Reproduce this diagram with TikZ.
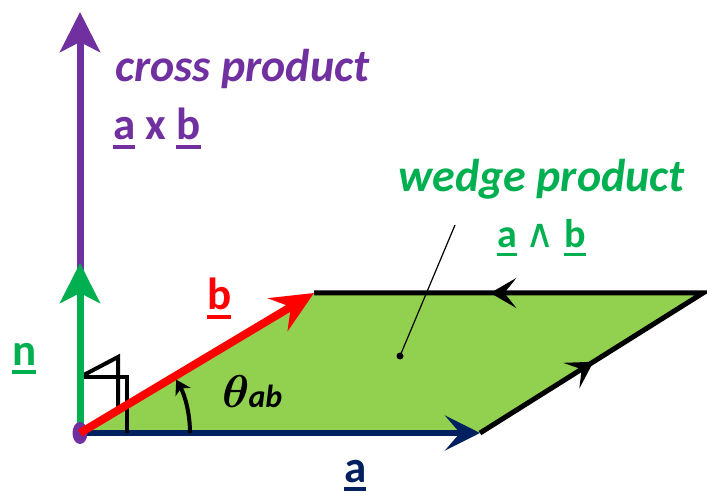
\documentclass[tikz,border=0pt]{standalone}
\usepackage{fix-cm}
\usepackage{fontspec}
\setmainfont{Carlito}
\newfontfamily\symfont{DejaVu Sans}
\usetikzlibrary{arrows.meta, decorations.markings}

\definecolor{crosscol}{HTML}{7030A0}
\definecolor{wedgecol}{HTML}{00B050}
\definecolor{planecol}{HTML}{92D050}
\definecolor{acol}{HTML}{002060}
\definecolor{bcol}{HTML}{FF0000}

\newcommand{\ulvec}[1]{\vtop{\hbox{#1}\kern0.11em\hrule height 0.08em}}
\newcommand{\labelsize}{\fontsize{45}{54}\selectfont}

\begin{document}
\begin{tikzpicture}[x=1pt, y=1pt,
        vec/.style={line width=7pt, -{Stealth[length=40pt, width=40pt, inset=10pt]}},
        edge/.style={line width=5pt},
        lbl/.style={inner sep=0pt, anchor=base west, font=\labelsize\bfseries},
        midarrows/.style={postaction={decorate}, decoration={markings,
            mark=at position 134pt with {\arrow{Stealth[length=26pt, width=30pt, inset=12pt]}},
            mark=at position 476pt with {\arrow{Stealth[length=26pt, width=30pt, inset=12pt]}}}}
    ]
    \useasboundingbox (0,0) rectangle (707,496);

    \coordinate (O) at (80,63);
    \coordinate (A) at (480,63);
    \coordinate (B) at (314,203);
    \coordinate (C) at (703,203);
    \coordinate (P) at (80,484);
    \coordinate (N) at (80,233);
    \coordinate (dot) at (400,140);
    \coordinate (lead) at (455,271);

    % plane spanned by a and b
    \fill[planecol] (O) -- (A) -- (C) -- (B) -- cycle;
    \draw[edge, midarrows] (A) -- (C) -- (B);

    \draw[acol, line width=6pt, -{Stealth[length=35pt, width=35pt, inset=15pt]}] (O) -- (A);
    \draw[vec, crosscol] (O) -- (P);

    % right angle marks
    \draw[line width=4pt] (80,119) -- (118,139) -- (118,86);
    \draw[line width=4pt] (80,119) -- (127,119) -- (127,63);

    \draw[vec, wedgecol] (O) -- (N);
    \fill[crosscol] (O) ellipse[x radius=7.5, y radius=11];
    \draw[bcol, line width=8pt, -{Stealth[length=42pt, width=38pt, inset=15pt]}] (O) -- (B);

    % angle between a and b
    \draw[line width=4pt, -{Stealth[length=14pt, width=17pt, inset=4pt]}]
        ([shift={(0:110)}]O) arc[start angle=0, end angle=29, radius=110];

    \fill (dot) circle (3.5);
    \draw[line width=1.2pt] (dot) -- (lead);

    \node[lbl, crosscol, font=\fontsize{46}{54}\selectfont\bfseries\itshape] (cross) at (115,414) {cross product};
    \node[lbl, crosscol] (crossvec) at (113,356) {\ulvec{a} x \ulvec{b}};
    \node[lbl, wedgecol, font=\fontsize{46}{54}\selectfont\bfseries\itshape] (wedge) at (398,304) {wedge product};
    \node[lbl, wedgecol, font=\fontsize{40}{48}\selectfont\bfseries] (wedgevec) at (497,248) {\ulvec{a} {\symfont\mdseries ∧} \ulvec{b}};
    \node[lbl, bcol] (blabel) at (207,186) {\ulvec{b}};
    \node[lbl, wedgecol] (nlabel) at (12,131) {\ulvec{n}};
    \node[lbl, acol] (alabel) at (344,14) {\ulvec{a}};
    \node[lbl, font=\fontsize{46}{54}\selectfont\boldmath] (theta) at (222,89)
        {$\theta$\kern-1pt\fontsize{32}{38}\selectfont\bfseries\itshape ab};
\end{tikzpicture}
\end{document}
